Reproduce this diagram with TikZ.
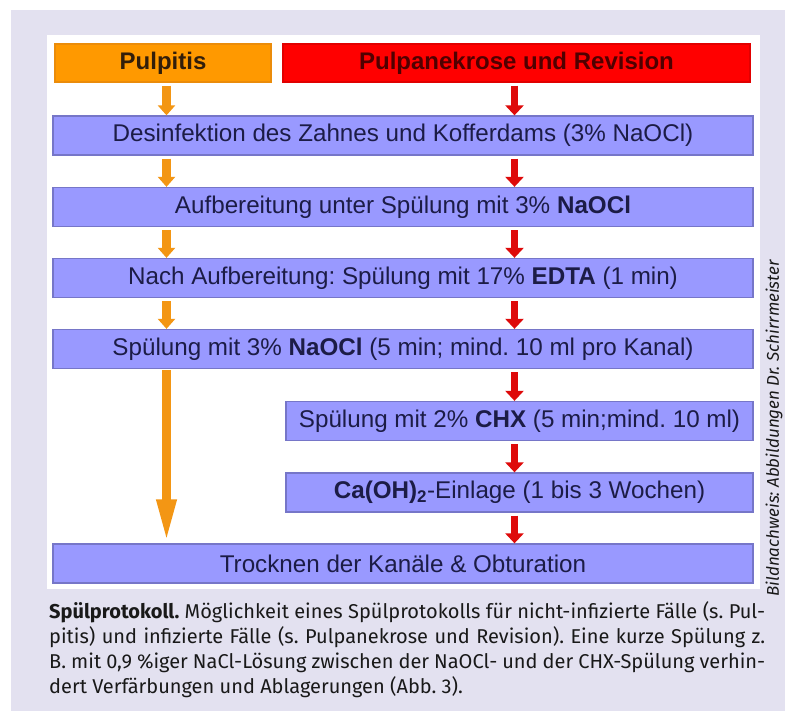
\documentclass[tikz,border=0pt]{standalone}
\usepackage{fontspec}
\setmainfont{Liberation Sans}
\newfontfamily\capfont{Fira Sans}
\usetikzlibrary{arrows.meta}

\definecolor{bg}{RGB}{227,225,240}
\definecolor{boxblue}{RGB}{153,153,255}
\definecolor{boxline}{RGB}{118,118,200}
\definecolor{boxtext}{RGB}{28,28,70}
\definecolor{orangefill}{RGB}{255,153,0}
\definecolor{orangeline}{RGB}{235,140,10}
\definecolor{orangetext}{RGB}{50,30,10}
\definecolor{orangearrow}{RGB}{243,150,20}
\definecolor{redfill}{RGB}{255,0,0}
\definecolor{redline}{RGB}{225,0,0}
\definecolor{redtext}{RGB}{80,0,0}
\definecolor{redarrow}{RGB}{222,10,10}
\definecolor{captext}{RGB}{25,25,25}

\begin{document}
\frenchspacing
\begin{tikzpicture}[x=1pt,y=-1pt,
  stepbox/.style={draw=boxline, line width=1.3pt, fill=boxblue, text=boxtext,
    inner sep=0pt, minimum height=39pt, font=\fontsize{24.2}{28}\selectfont},
  headbox/.style={line width=1.3pt, inner sep=0pt, minimum height=38pt,
    font=\bfseries\fontsize{24}{28}\selectfont},
  oarrow/.style={draw=orangearrow, line width=9pt, shorten <=3pt,
    -{Triangle[width=17pt,length=10pt]}},
  rarrow/.style={draw=redarrow, line width=7pt, shorten <=3pt,
    -{Triangle[width=18pt,length=10pt]}},
  caption/.style={anchor=base west, inner sep=0pt, text=captext,
    font=\capfont\frenchspacing\fontsize{20}{25}\selectfont}
]
\useasboundingbox (0,0) rectangle (785,711);
\fill[white] (0,0) rectangle (785,711);
\fill[bg] (11,10) rectangle (785,711);
\fill[white] (47,35) rectangle (760,589);

\coordinate (ox) at (166.5,0);
\coordinate (rx) at (514.5,0);

\node[headbox, fill=orangefill, draw=orangeline, text=orangetext, minimum width=216pt] (pulp) at (163,63) {Pulpitis};
\node[headbox, fill=redfill, draw=redline, text=redtext, minimum width=467pt] (nekr) at (516.5,63) {Pulpanekrose und Revision};

\node[stepbox, minimum width=700pt] (d1) at (403,135.5) {Desinfektion des Zahnes und Kofferdams (3\% NaOCl)};
\node[stepbox, minimum width=700pt] (d2) at (403,207) {Aufbereitung unter Spülung mit 3\% \textbf{NaOCl}};
\node[stepbox, minimum width=700pt] (d3) at (403,278) {Nach Aufbereitung: Spülung mit 17\% \textbf{EDTA} (1 min)};
\node[stepbox, minimum width=700pt] (d4) at (403,349) {Spülung mit 3\% \textbf{NaOCl} (5 min; mind. 10 ml pro Kanal)};
\node[stepbox, minimum width=467pt] (d5) at (519.5,421) {Spülung mit 2\% \textbf{CHX} (5 min;mind. 10 ml)};
\node[stepbox, minimum width=467pt] (d6) at (519.5,492.5) {\textbf{Ca(OH)}\textsubscript{\textbf{2}}-Einlage (1 bis 3 Wochen)};
\node[stepbox, minimum width=700pt] (d7) at (403,563.5) {Trocknen der Kanäle \& Obturation};

% orange path
\draw[oarrow] (pulp.south -| ox) -- (d1.north -| ox);
\draw[oarrow] (d1.south -| ox) -- (d2.north -| ox);
\draw[oarrow] (d2.south -| ox) -- (d3.north -| ox);
\draw[oarrow] (d3.south -| ox) -- (d4.north -| ox);
\draw[draw=orangearrow, line width=9pt, shorten <=1pt, -{Triangle[width=18pt,length=44pt]}] (d4.south -| ox) -- (d7.north -| ox);

% red path
\draw[rarrow] (nekr.south -| rx) -- (d1.north -| rx);
\draw[rarrow] (d1.south -| rx) -- (d2.north -| rx);
\draw[rarrow] (d2.south -| rx) -- (d3.north -| rx);
\draw[rarrow] (d3.south -| rx) -- (d4.north -| rx);
\draw[rarrow] (d4.south -| rx) -- (d5.north -| rx);
\draw[rarrow] (d5.south -| rx) -- (d6.north -| rx);
\draw[rarrow] (d6.south -| rx) -- (d7.north -| rx);

% credit
\node[rotate=90, inner sep=0pt, text=captext, font=\capfont\itshape\fontsize{17}{20}\selectfont] (credit) at (774,428.5) {Bildnachweis: Abbildungen Dr. Schirrmeister};

% caption
\node[caption] (c1) at (49,618) {\makebox[716pt][s]{\textbf{Spülprotokoll.} Möglichkeit eines Spülprotokolls für nicht-infizierte Fälle (s. Pul-}};
\node[caption] (c2) at (49,643) {\makebox[716pt][s]{pitis) und infizierte Fälle (s. Pulpanekrose und Revision). Eine kurze Spülung z.}};
\node[caption] (c3) at (49,668) {\makebox[716pt][s]{B. mit 0,9 \%iger NaCl-Lösung zwischen der NaOCl- und der CHX-Spülung verhin-}};
\node[caption] (c4) at (49,693) {dert Verfärbungen und Ablagerungen (Abb. 3).};
\end{tikzpicture}
\end{document}
